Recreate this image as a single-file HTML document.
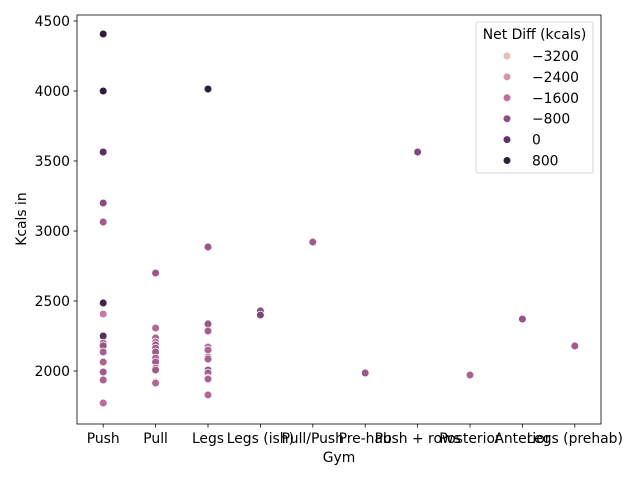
<!DOCTYPE html>
<html><head><meta charset="utf-8"><style>
body{margin:0;background:#fff}
svg{font-family:"DejaVu Sans","Liberation Sans",sans-serif}
</style></head><body>
<svg id="c" width="640" height="480" xmlns="http://www.w3.org/2000/svg"></svg>
<script>
const categories=["Push","Pull","Legs","Legs (ish)","Pull/Push","Pre-hab","Push + rows","Posterior","Anterior","Legs (prehab)"];
const pointCats=[0,0,0,0,0,0,0,0,0,0,0,0,0,0,0, 1,1,1,1,1,1,1,1,1,1,1,1,1, 2,2,2,2,2,2,2,2,2,2,2,2,2, 3,3,4,5,6,7,8,9];
const kcals=[4407,4000,3564,3200,3064,2486,2407,2250,2200,2180,2136,2064,1993,1936,1771,
 2700,2307,2236,2207,2186,2164,2136,2093,2064,2021,2007,1921,1914,
 4014,2886,2336,2286,2171,2150,2100,2086,2007,1986,1950,1943,1829,
 2429,2400,2921,1986,3564,1971,2371,2179];
const netDiff=[800,800,100,-700,-1100,500,-1800,200,-1400,-900,-1200,-1300,-1100,-1300,-1500,
 -1000,-1400,-1300,-1500,-1000,-1200,-1100,-1300,-1100,-1300,-1100,-1600,-1400,
 800,-1000,-1000,-1200,-1500,-1300,-1300,-1200,-900,-1200,-1300,-1300,-1400,
 -700,-500,-1100,-1000,-600,-1300,-900,-1100];
const yTicks=[2000,2500,3000,3500,4000,4500];
const legendVals=[-3200,-2400,-1600,-800,0,800];
const legendCols=["#e8bdb8","#d597a7","#bb7198","#904d86","#5f3468","#2d1e3e"];

const NS="http://www.w3.org/2000/svg",svg=document.getElementById('c');
const L=77,R=601,T=15,B=424,FS=13.9;
const xs=i=>L+(i+0.5)*(R-L)/categories.length;
const ys=v=>371-(v-2000)*0.14;
function hx(h){return [1,3,5].map(i=>parseInt(h.substr(i,2),16));}
function col(v){
 if(v<=legendVals[0])return legendCols[0];
 for(let i=0;i<legendVals.length-1;i++){if(v<=legendVals[i+1]){const t=(v-legendVals[i])/(legendVals[i+1]-legendVals[i]);const a=hx(legendCols[i]),b=hx(legendCols[i+1]);return 'rgb('+a.map((c,k)=>Math.round(c+(b[k]-c)*t)).join(',')+')';}}
 return legendCols[legendCols.length-1];}
function el(t,a,p){const e=document.createElementNS(NS,t);for(const k in a)e.setAttribute(k,a[k]);(p||svg).appendChild(e);return e;}
let f=el('rect',{x:L,y:T,width:R-L,height:B-T,fill:'none',stroke:'#000','stroke-width':0.8});


yTicks.forEach(v=>{const y=ys(v);el('line',{x1:L-3.5,x2:L,y1:y,y2:y,stroke:'#000','stroke-width':0.8});
 const t=el('text',{x:L-7,y:y+5,'text-anchor':'end','font-size':FS});t.textContent=v;
 
 });
categories.forEach((c,i)=>{const x=xs(i);el('line',{x1:x,x2:x,y1:B,y2:B+3.5,stroke:'#000','stroke-width':0.8});
 const t=el('text',{x:x,y:B+19,'text-anchor':'middle','font-size':FS});t.textContent=c;
 
 });
let xl=el('text',{x:339,y:462,'text-anchor':'middle','font-size':FS});xl.textContent='Gym';


let yl=el('text',{x:26,y:219,'text-anchor':'middle','font-size':FS,transform:'rotate(-90 26 219)'});yl.textContent='Kcals in';


kcals.forEach((v,i)=>{const p=el('circle',{cx:xs(pointCats[i]),cy:ys(v),r:3.9,fill:col(netDiff[i]),stroke:'#fff','stroke-width':0.75});
 
 });
const lg=el('g',{});


el('rect',{x:476,y:22,width:117,height:151,rx:2,fill:'#fff','fill-opacity':0.8,stroke:'#ccc','stroke-width':0.8},lg);
let lt=el('text',{x:534.5,y:39,'text-anchor':'middle','font-size':FS},lg);lt.textContent='Net Diff (kcals)';
legendVals.forEach((v,i)=>{const y=56+i*20.9;
 const g=el('g',{},lg);
 
 
 el('circle',{cx:507,cy:y,r:3.5,fill:legendCols[i]},g);
 const t=el('text',{x:532,y:y+5,'font-size':FS},g);t.textContent=v<0?'\u2212'+(-v):v;});
</script>
</body></html>
